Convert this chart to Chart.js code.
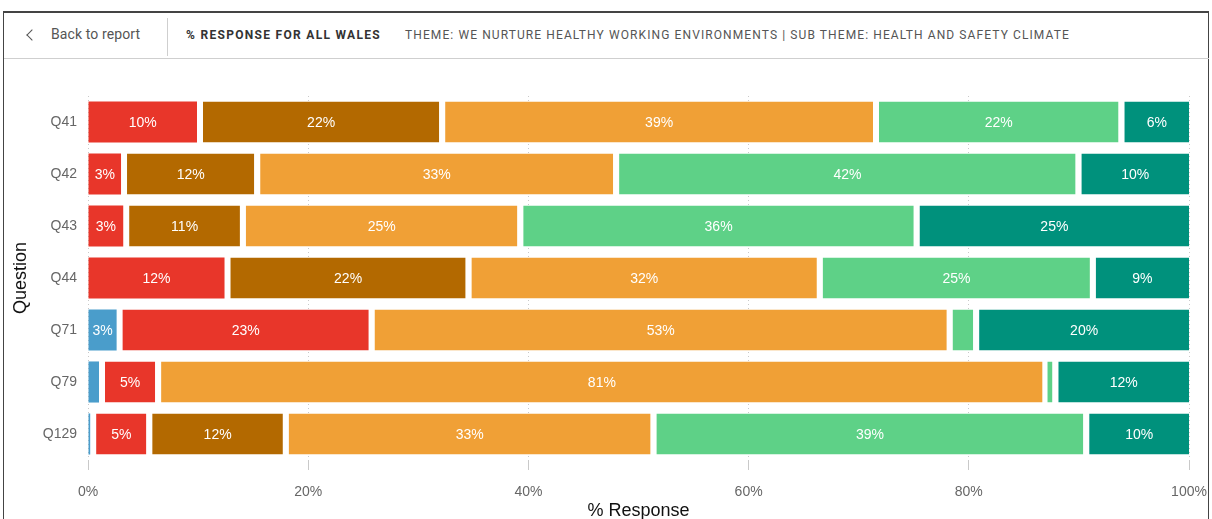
<!DOCTYPE html>
<html>
<head>
<meta charset="utf-8">
<script src="https://cdn.jsdelivr.net/npm/chart.js@4/dist/chart.umd.min.js"></script>
<style>
  html, body { margin: 0; padding: 0; background: #fff; overflow: hidden; }
  body { width: 1212px; height: 519px; position: relative; font-family: Roboto, "Liberation Sans", sans-serif; }
  .frame { position: absolute; left: 3px; top: 11px; width: 1206px; height: 520px;
           border: 1px solid #444; border-top-width: 2px; box-sizing: border-box; }
  .header { position: absolute; left: 4px; top: 13px; width: 1205px; height: 45px; border-bottom: 1px solid #cfcfcf; }
  .chev { position: absolute; left: 24px; top: 18px; width: 7px; height: 7px;
          border-left: 1.3px solid #555; border-bottom: 1.3px solid #555; transform: rotate(45deg); }
  .back { position: absolute; left: 47px; top: 13px; font-size: 14px; color: #555; letter-spacing: 0.1px; }
  .sep { position: absolute; left: 163px; top: 5px; width: 1px; height: 38px; background: #cfcfcf; }
  .title { position: absolute; left: 182px; top: 15px; font-size: 12px; font-weight: bold; color: #333; letter-spacing: 1.3px; }
  .theme { position: absolute; left: 401px; top: 15px; font-size: 12px; color: #555; letter-spacing: 1.1px; }
  .wrap { position: absolute; left: 4px; top: 59px; width: 1205px; height: 480px; }
</style>
</head>
<body>
<div class="frame"></div>
<div class="header">
  <div class="chev"></div>
  <div class="back">Back to report</div>
  <div class="sep"></div>
  <div class="title">% RESPONSE FOR ALL WALES</div>
  <div class="theme">THEME: WE NURTURE HEALTHY WORKING ENVIRONMENTS | SUB THEME: HEALTH AND SAFETY CLIMATE</div>
</div>
<div class="wrap"><canvas id="chart"></canvas></div>
<script>
// questions down the y axis
const questions = ["Q41", "Q42", "Q43", "Q44", "Q71", "Q79", "Q129"];

// % response per answer
const dontKnow          = [0,    0,    0,    0,    2.6,  1.0,  0.2];
const stronglyDisagree  = [9.9,  3.0,  3.2,  12.4, 22.9, 5.1,  5.1];
const disagree          = [22.0, 12.1, 10.6, 21.9, 0,    0,    12.4];
const neither           = [39.4, 32.6, 25.2, 31.9, 52.5, 80.6, 33.4];
const agree             = [22.3, 42.0, 36.0, 24.8, 2.4,  0.9,  39.3];
const stronglyAgree     = [6.4,  10.3, 25.0, 9.0,  19.6, 12.4, 9.6];

const xTicks = [0, 20, 40, 60, 80, 100];

const SERIES = [
  { label: "Don't know",        data: dontKnow,         color: "#4A9DCB" },
  { label: "Strongly disagree", data: stronglyDisagree, color: "#E8362A" },
  { label: "Disagree",          data: disagree,         color: "#B36900" },
  { label: "Neither",           data: neither,          color: "#F0A036" },
  { label: "Agree",             data: agree,            color: "#5ED187" },
  { label: "Strongly agree",    data: stronglyAgree,    color: "#00917C" },
];

const GAP = 6;

// first non-zero segment in a row gets no gap on its left
function isFirstInRow(di, i) {
  for (let k = 0; k < di; k++) if (SERIES[k].data[i] > 0) return false;
  return true;
}

const barLabels = {
  id: "barLabels",
  afterDatasetsDraw(chart) {
    const { ctx } = chart;
    ctx.save();
    ctx.font = "14px Arial, 'Liberation Sans', sans-serif";
    ctx.fillStyle = "#fff";
    ctx.textAlign = "center";
    ctx.textBaseline = "middle";
    chart.data.datasets.forEach((ds, di) => {
      chart.getDatasetMeta(di).data.forEach((bar, i) => {
        const v = ds.data[i];
        if (!v) return;
        const gap = isFirstInRow(di, i) ? 0 : GAP;
        const start = bar.base + gap;
        const w = bar.x - start;
        const txt = Math.round(v) + "%";
        if (ctx.measureText(txt).width + 3 > w) return;
        ctx.fillText(txt, (start + bar.x) / 2, bar.y + 1);
      });
    });
    ctx.restore();
  },
};

new Chart(document.getElementById("chart"), {
  type: "bar",
  data: {
    labels: questions,
    datasets: SERIES.map((s, di) => ({
      label: s.label,
      data: s.data,
      backgroundColor: s.color,
      borderColor: "#ffffff",
      borderSkipped: false,
      borderWidth: (c) => ({ top: 0, right: 0, bottom: 0, left: isFirstInRow(di, c.dataIndex) ? 0 : GAP }),
      barPercentage: 0.79,
      categoryPercentage: 1,
    })),
  },
  plugins: [barLabels],
  options: {
    indexAxis: "y",
    responsive: true,
    maintainAspectRatio: false,
    animation: false,
    layout: { padding: { top: 37, right: 20, left: 0, bottom: 0 } },
    plugins: { legend: { display: false }, tooltip: { enabled: false } },
    scales: {
      x: {
        stacked: true,
        min: 0,
        max: 100,
        afterFit: (s) => { s.height = 79; s.paddingLeft = 0; s.paddingRight = 0; },
        afterBuildTicks: (s) => { s.ticks = xTicks.map((v) => ({ value: v })); },
        grid: { color: "#c9c9c9", tickLength: 10, drawTicks: true, tickColor: "#c9c9c9" },
        border: { display: false, dash: [1, 3] },
        ticks: { color: "#666", font: { size: 14, family: "Arial, 'Liberation Sans'" }, padding: 14, callback: (v) => v + "%" },
        title: { display: true, text: "% Response", color: "#111", font: { size: 18, family: "Arial, 'Liberation Sans'" }, padding: { top: 0, bottom: 17 } },
      },
      y: {
        stacked: true,
        afterFit: (s) => { s.width = 84; },
        grid: { display: false, drawTicks: false },
        border: { display: false },
        ticks: { color: "#666", font: { size: 14, family: "Arial, 'Liberation Sans'" }, padding: 11 },
        title: { display: true, text: "Question", color: "#111", font: { size: 18, family: "Arial, 'Liberation Sans'" }, padding: { top: 6, bottom: 0 } },
      },
    },
  },
});
</script>
</body>
</html>
